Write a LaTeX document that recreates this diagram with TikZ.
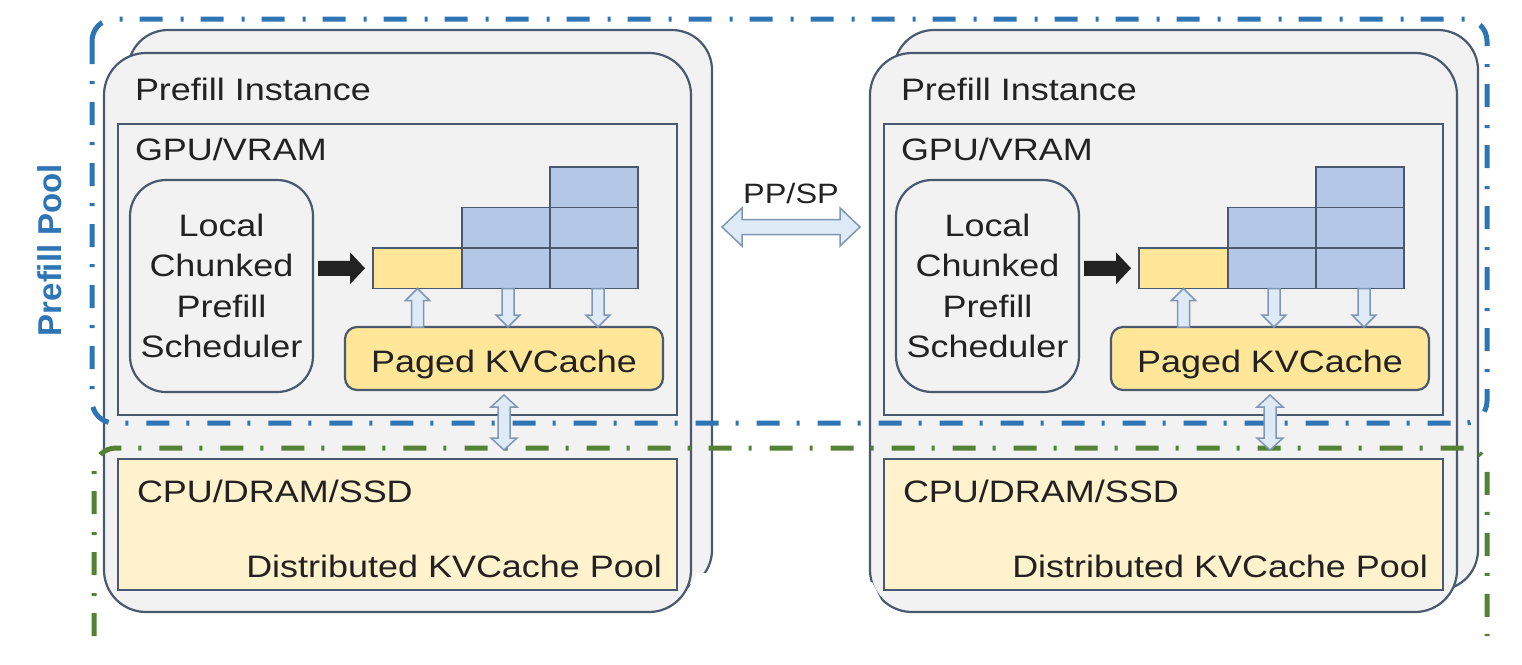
\documentclass[tikz,border=0pt]{standalone}
\usepackage{fontspec}
\setmainfont{Liberation Sans}
\newfontfamily\wfont{Liberation Sans}[FakeStretch=1.16]
\usetikzlibrary{calc}
\definecolor{instbg}{HTML}{F2F2F2}
\definecolor{edge}{HTML}{4A5870}
\definecolor{kvyel}{HTML}{FFE699}
\definecolor{cpufill}{HTML}{FFF2CC}
\definecolor{cellblue}{HTML}{B4C7E7}
\definecolor{arrfill}{HTML}{DEEBF7}
\definecolor{arredge}{HTML}{8096B6}
\definecolor{txtc}{HTML}{222222}
\definecolor{poolblue}{HTML}{2E75B6}
\definecolor{poolgreen}{HTML}{548235}
\tikzset{
  box/.style={draw=edge, line width=2.2pt, inner sep=0pt, outer sep=0pt, anchor=north west},
  cellbox/.style={draw=edge, line width=1.3pt, inner sep=0pt, outer sep=0pt, anchor=north west},
  txt/.style={font=\wfont\fontsize{31}{40.5}\selectfont, text=txtc, inner sep=0pt, outer sep=0pt},
  hollow/.style={draw=arredge, fill=arrfill, line width=1.5pt, line join=miter},
  solidarrow/.style={fill=txtc, draw=none},
  poolline/.style={line width=5pt, dash pattern=on 23pt off 17pt on 3pt off 18pt, rounded corners=22pt},
}
% single block arrow: #1 style, #2 from, #3 to (tip), #4 shaft half width, #5 head half width, #6 head length
\newcommand\blockarrow[6]{%
  \coordinate (ba-h) at ($(#3)!#6!(#2)$);
  \draw[#1] ($(#2)!#4!90:(#3)$) -- ($(ba-h)!#4!-90:(#2)$) -- ($(ba-h)!#5!-90:(#2)$) -- (#3)
     -- ($(ba-h)!#5!90:(#2)$) -- ($(ba-h)!#4!90:(#2)$) -- ($(#2)!#4!-90:(#3)$) -- cycle;
}
% double block arrow
\newcommand\dblockarrow[6]{%
  \coordinate (ba-h1) at ($(#2)!#6!(#3)$);
  \coordinate (ba-h2) at ($(#3)!#6!(#2)$);
  \draw[#1] (#2) -- ($(ba-h1)!#5!90:(#3)$) -- ($(ba-h1)!#4!90:(#3)$) -- ($(ba-h2)!#4!-90:(#2)$)
     -- ($(ba-h2)!#5!-90:(#2)$) -- (#3) -- ($(ba-h2)!#5!90:(#2)$) -- ($(ba-h2)!#4!90:(#2)$)
     -- ($(ba-h1)!#4!-90:(#3)$) -- ($(ba-h1)!#5!-90:(#3)$) -- cycle;
}
\begin{document}
\begin{tikzpicture}[x=1pt, y=-1pt]
\useasboundingbox (0,0) rectangle (1522,664);

\foreach \s/\p in {0/L,766/R}{
\begin{scope}[xshift=\s pt]
  \node[box, fill=instbg, rounded corners=40pt, minimum width=584pt, minimum height=560pt] (back\p) at (128,30) {};
  \node[box, fill=instbg, rounded corners=42pt, minimum width=587pt, minimum height=559pt] (front\p) at (104,53) {};
  \node[txt, anchor=base west] (title\p) at (135,100) {Prefill Instance};
  \node[box, fill=instbg, minimum width=559pt, minimum height=291pt] (gpu\p) at (118,124) {};
  \node[txt, anchor=base west] (gputxt\p) at (135,160) {GPU/VRAM};
  \node[box, fill=instbg, rounded corners=36pt, minimum width=183pt, minimum height=212pt,
        txt, align=center] (sch\p) at (130,180) {Local\\Chunked\\Prefill\\Scheduler};
  \node[cellbox, fill=kvyel, minimum width=89pt, minimum height=40.5pt] (yc\p) at (373,248) {};
  \node[cellbox, fill=cellblue, minimum width=88pt, minimum height=40.5pt] (ca\p) at (462,248) {};
  \node[cellbox, fill=cellblue, minimum width=88pt, minimum height=40.5pt] (cb\p) at (550,248) {};
  \node[cellbox, fill=cellblue, minimum width=88pt, minimum height=40.5pt] (cc\p) at (462,207.5) {};
  \node[cellbox, fill=cellblue, minimum width=88pt, minimum height=40.5pt] (cd\p) at (550,207.5) {};
  \node[cellbox, fill=cellblue, minimum width=88pt, minimum height=40.5pt] (ce\p) at (550,167) {};
  \node[box, fill=kvyel, rounded corners=12pt, minimum width=318pt, minimum height=63pt,
        txt, text height=27pt, text depth=0pt] (pk\p) at (345,327) {Paged KVCache};
  \node[box, fill=cpufill, minimum width=559pt, minimum height=131pt] (cpu\p) at (118,459) {};
  \node[txt, anchor=base west] (cputxt\p) at (137,502) {CPU/DRAM/SSD};
  \node[txt, anchor=base east] (pooltxt\p) at (662,577) {Distributed KVCache Pool};
\end{scope}
}

% white cut below the instances
\fill[white] (680,604) -- (697,573) -- (866,573) -- (866,582) -- (872,582) -- (884,606) -- (884,664) -- (680,664) -- cycle;

% pools
\draw[poolline, draw=poolblue] (92,19) rectangle (1487,423);
\draw[poolline, draw=poolgreen] (94,636) -- (94,448) -- (1487,448) -- (1487,636);
\node[font=\fontsize{33}{40}\selectfont\bfseries, text=poolblue, rotate=90, inner sep=0pt] (pooltitle) at (50,250) {Prefill Pool};

% arrows inside instances
\foreach \p in {L,R}{
  \coordinate (ua\p) at (yc\p.south |- pk\p.north);
  \blockarrow{hollow}{ua\p}{yc\p.south}{6pt}{12pt}{12pt}
  \coordinate (dsa\p) at ($(ca\p.south)+(2,0)$);
  \coordinate (da\p) at (dsa\p |- pk\p.north);
  \blockarrow{hollow}{dsa\p}{da\p}{6pt}{12pt}{12pt}
  \coordinate (dsb\p) at ($(cb\p.south)+(4,0)$);
  \coordinate (db\p) at (dsb\p |- pk\p.north);
  \blockarrow{hollow}{dsb\p}{db\p}{6pt}{12pt}{12pt}
  \coordinate (va\p) at ($(pk\p.south)+(0,5)$);
  \coordinate (vb\p) at ($(cpu\p.north -| pk\p.south)+(0,-9)$);
  \dblockarrow{hollow}{va\p}{vb\p}{6pt}{13pt}{12pt}
  \coordinate (bka\p) at ($(sch\p.east |- yc\p.west)+(5,0)$);
  \coordinate (bkb\p) at ($(yc\p.west)+(-8,0)$);
  \blockarrow{solidarrow}{bka\p}{bkb\p}{7.5pt}{16pt}{15pt}
}

% PP/SP link
\coordinate (ppA) at (722,227);
\coordinate (ppB) at (860,227);
\dblockarrow{hollow}{ppA}{ppB}{7.5pt}{19pt}{20pt}
\node[txt, font=\wfont\fontsize{28}{34}\selectfont, anchor=base] (pplabel) at (791,203) {PP/SP};
\end{tikzpicture}
\end{document}
